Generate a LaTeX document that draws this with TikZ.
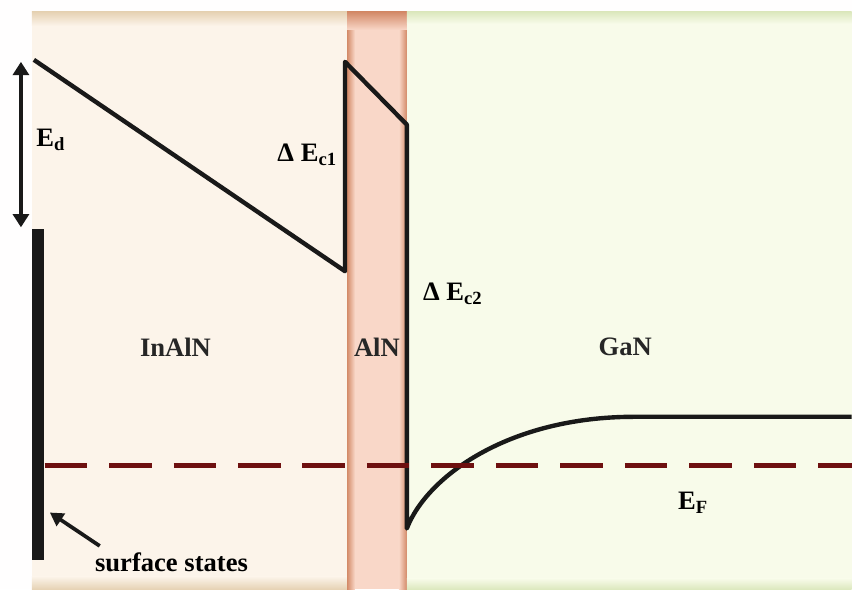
\documentclass[tikz,border=0pt]{standalone}
\usepackage{fontspec}
\setmainfont{Liberation Serif}
\usetikzlibrary{arrows.meta, positioning}

\definecolor{inalnbg}{HTML}{FCF4EA}
\definecolor{inalnedge}{HTML}{E6D2B4}
\definecolor{alnbg}{HTML}{F9D7C8}
\definecolor{alnedge}{HTML}{D38A68}
\definecolor{ganbg}{HTML}{F8FBEA}
\definecolor{ganedge}{HTML}{DCE8BE}
\definecolor{fermired}{HTML}{6E1010}

\begin{document}
\begin{tikzpicture}[
  x=0.75pt, y=-0.75pt,
  every node/.style={font=\fontsize{20}{24}\selectfont\bfseries, inner sep=1pt},
  band/.style={line width=3.3pt, black!90, line join=round},
  fermi/.style={line width=3.7pt, fermired, dash pattern=on 32pt off 16.5pt, dash phase=-5pt},
  ssbar/.style={line width=9pt, black!90},
  arr/.style={-{Triangle[length=10pt, width=11pt]}, line width=2.8pt, black!90},
  dblarr/.style={{Triangle[length=10pt, width=12pt]}-{Triangle[length=10pt, width=12pt]}, line width=2.8pt, black!90},
  layerlabel/.style={text=black!85}
]

% ---- BACKGROUNDS ----
\fill[white!96!inalnbg] (0,0) rectangle (854,591);
\fill[inalnbg] (32,12) rectangle (348,591);
\shade[top color=inalnedge, bottom color=inalnbg] (32,12) rectangle (348,26);
\shade[top color=inalnbg, bottom color=inalnedge] (32,578) rectangle (348,591);
\fill[alnbg] (348,12) rectangle (408,591);
\shade[left color=alnedge, right color=alnbg] (348,12) rectangle (356,591);
\shade[left color=alnbg, right color=alnedge] (400,12) rectangle (408,591);
\shade[top color=alnedge, bottom color=alnbg] (348,12) rectangle (408,30);
\fill[ganbg] (408,12) rectangle (854,591);
\shade[top color=ganedge, bottom color=ganbg] (408,12) rectangle (854,24);
\shade[top color=ganbg, bottom color=ganedge] (408,580) rectangle (854,591);

% ---- BAND EDGE ----
\coordinate (s0) at (34,60);
\coordinate (b1) at (346,272);
\coordinate (t1) at (346,62);
\coordinate (t2) at (408,125);
\coordinate (b2) at (408,530);
\coordinate (fl) at (636,418);
\coordinate (fr) at (854,418);
\draw[band] (s0) -- (b1) -- (t1) -- (t2) -- (b2)
  .. controls (428,478) and (510,418) .. (fl) -- (fr);

% ---- FERMI LEVEL ----
\coordinate (efl) at (38,467);
\coordinate (efr) at (854,467);
\draw[fermi] (efl) -- (efr);

% ---- SURFACE STATES ----
\coordinate (sstop) at (38,230);
\coordinate (ssbot) at (38,562);
\draw[ssbar] (sstop) -- (ssbot);
\node (ss) at (172,564) {surface states};
\coordinate (sshead) at (50,514);
\draw[arr] ([xshift=-54pt, yshift=4pt]ss.north) -- (sshead);

% ---- Ed ARROW ----
\coordinate (edtop) at (21,62);
\coordinate (edbot) at (21,228);
\draw[dblarr] (edtop) -- (edbot);
\node (ed) at (51,140) {E\textsubscript{d}};

% ---- LABELS ----
\node (dec1) at (308,155) {Δ E\textsubscript{c1}};
\node (dec2) at (454,295) {Δ E\textsubscript{c2}};
\node[layerlabel] (inaln) at (176,348) {InAlN};
\node[layerlabel] (aln) at (378,348) {AlN};
\node[layerlabel] (gan) at (627,348) {GaN};
\node (ef) at (695,504) {E\textsubscript{F}};
\end{tikzpicture}
\end{document}
